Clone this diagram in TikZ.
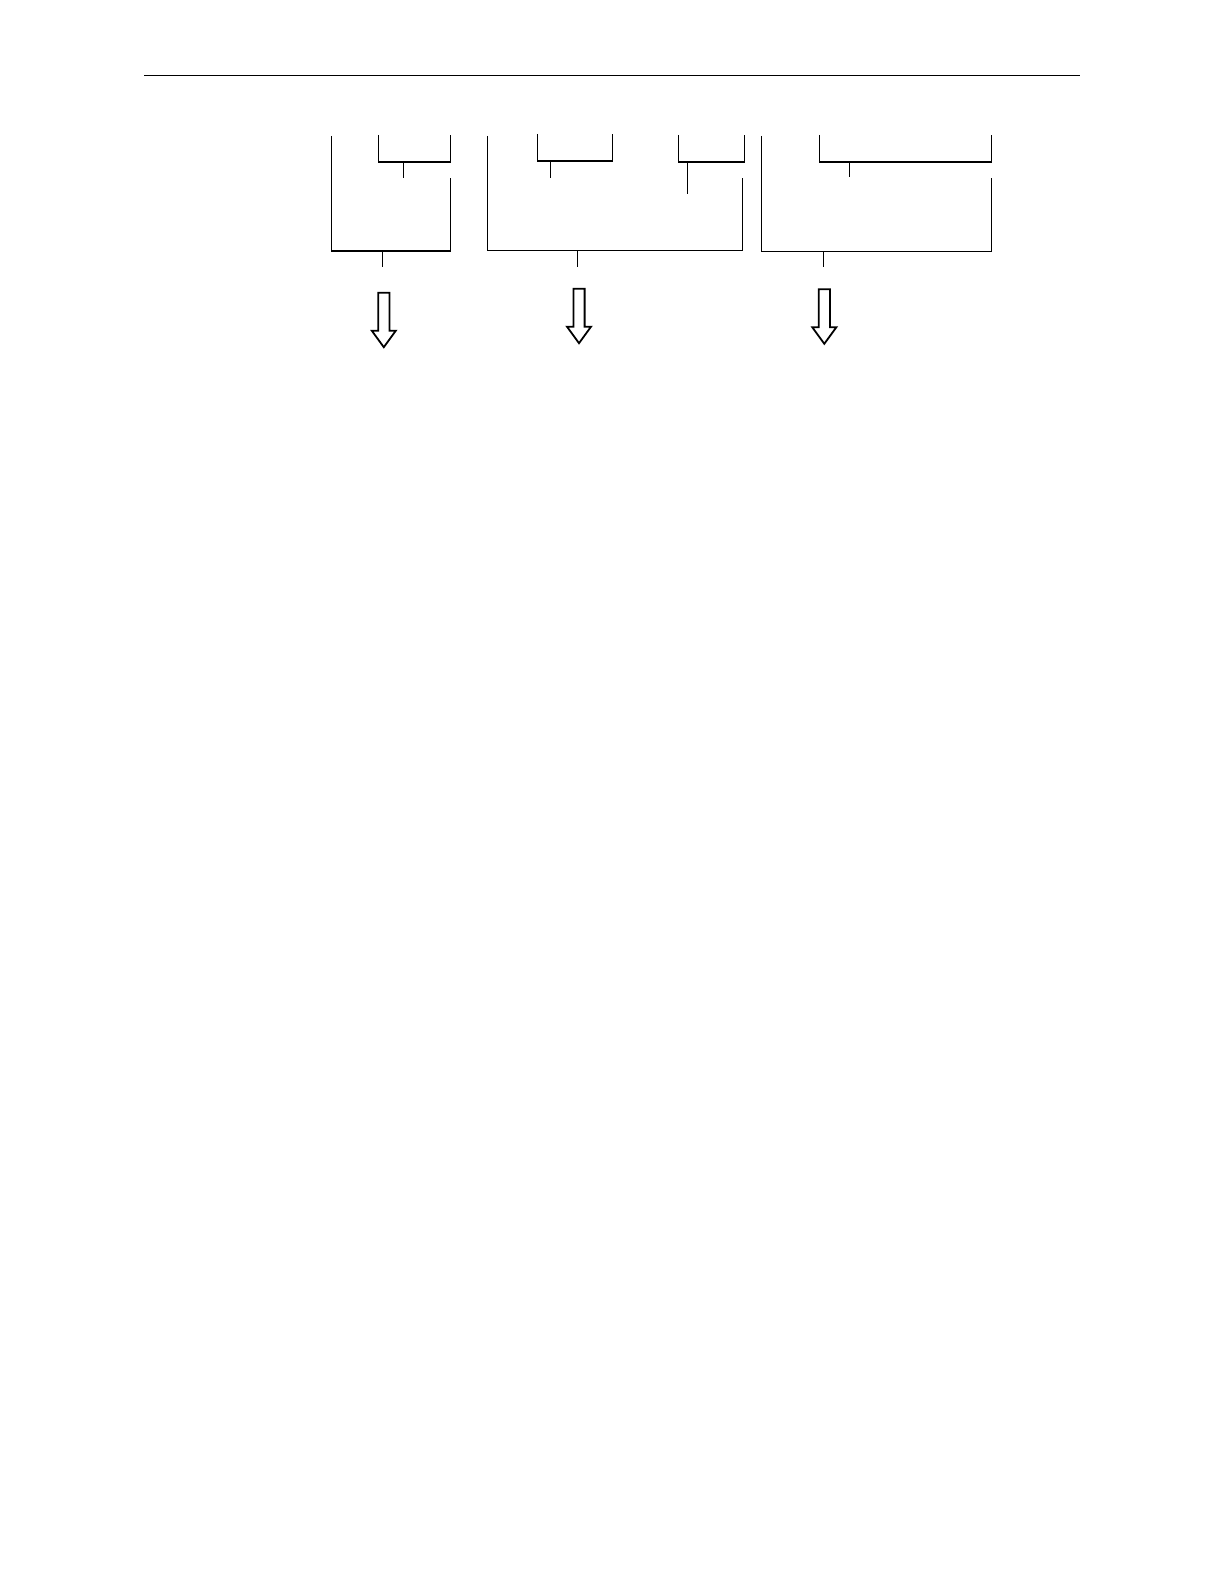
\documentclass[tikz,border=0pt]{standalone}
\usepackage{tikz}
\usetikzlibrary{positioning}

\begin{document}
\begin{tikzpicture}[x=0.01764cm, y=-0.01764cm,
    bracket/.style={line width=0.6pt},
    hollow/.style={line width=0.9pt, fill=white, line join=miter}]
    \useasboundingbox (0, 0) rectangle (1224, 1584);

    \draw [line width=0.7pt] (144, 75.3) -- (1080, 75.3);

    % outer brackets: left, right, bottom, stem
    \foreach \l/\r/\b/\s in {331.3/450.3/251/382.3, 487.3/742.3/250.3/577.3, 761.3/991.3/251.3/823.3} {
        \draw [bracket] (\l, 136) |- (\r, \b) -- (\r, 177.7);
        \draw [bracket] (\s, \b) -- (\s, 267.3);
    }

    % inner brackets: left, right, top, bottom, stem, stem end
    \foreach \l/\r/\t/\b/\s/\e in {378.3/450.3/135/162/403.3/178.3, 537.3/612.3/134/161/550.3/178.3,
        678.7/744.3/135/162/687.3/193.7, 819.3/991.3/135/162/849.3/177.3} {
        \draw [bracket] (\l, \t) |- (\r, \b) -- (\r, \t);
        \draw [bracket] (\s, \b) -- (\s, \e);
    }

    % hollow arrows
    \foreach \x/\t in {383.8/292.7, 579/288.7, 824.3/289.3} {
        \draw [hollow] (\x-5.6, \t) -- (\x+5.6, \t) -- (\x+5.6, \t+38) -- (\x+12, \t+38)
            -- (\x, \t+54.5) -- (\x-12, \t+38) -- (\x-5.6, \t+38) -- cycle;
    }
\end{tikzpicture}
\end{document}
